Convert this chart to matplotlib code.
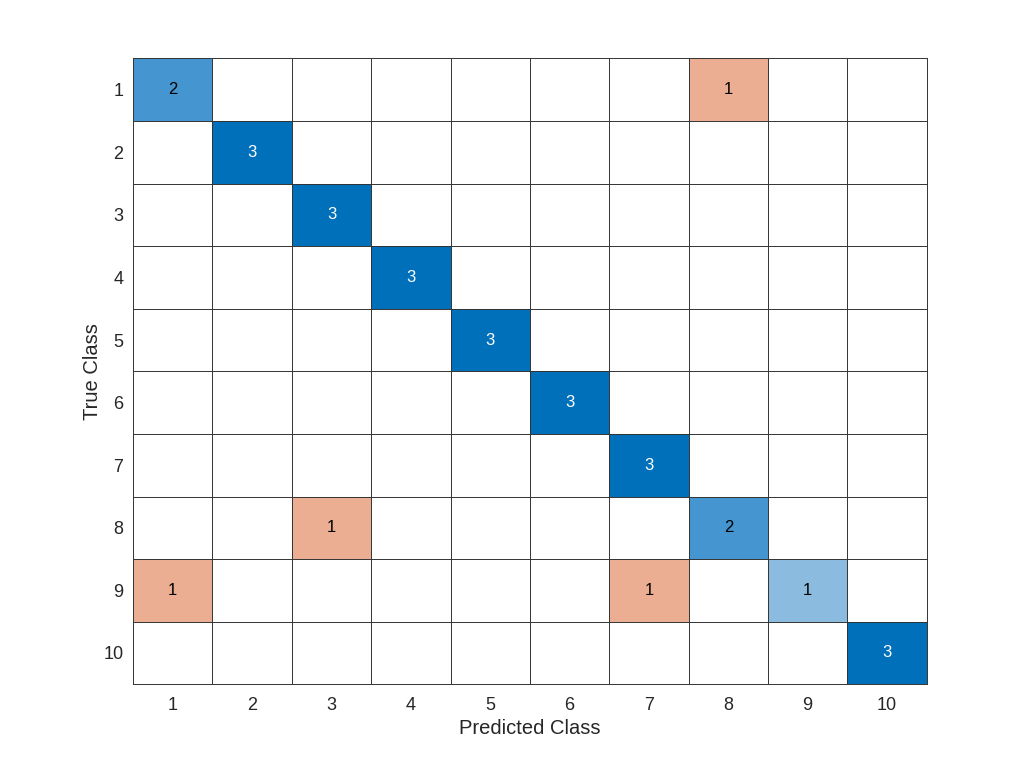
import matplotlib.pyplot as plt
import numpy as np

plt.rcParams['font.family'] = ['Liberation Sans', 'DejaVu Sans']

classes = ['1', '2', '3', '4', '5', '6', '7', '8', '9', '10']
# confusion counts, rows = true class, cols = predicted class
counts = np.array([
    [2, 0, 0, 0, 0, 0, 0, 1, 0, 0],
    [0, 3, 0, 0, 0, 0, 0, 0, 0, 0],
    [0, 0, 3, 0, 0, 0, 0, 0, 0, 0],
    [0, 0, 0, 3, 0, 0, 0, 0, 0, 0],
    [0, 0, 0, 0, 3, 0, 0, 0, 0, 0],
    [0, 0, 0, 0, 0, 3, 0, 0, 0, 0],
    [0, 0, 0, 0, 0, 0, 3, 0, 0, 0],
    [0, 0, 1, 0, 0, 0, 0, 2, 0, 0],
    [1, 0, 0, 0, 0, 0, 1, 0, 1, 0],
    [0, 0, 0, 0, 0, 0, 0, 0, 0, 3],
])

# shades
diag_colors = {1: '#8bbcdf', 2: '#4596d0', 3: '#0070bb'}
off_colors = {1: '#ebae92', 2: '#e08a63', 3: '#d95319'}

fig = plt.figure(figsize=(10.24, 7.68), dpi=100)
ax = fig.add_axes([0.130, 0.109, 0.775, 0.815])

n = len(classes)
for i in range(n):
    for j in range(n):
        v = counts[i, j]
        if v > 0:
            c = diag_colors[v] if i == j else off_colors[v]
            ax.add_patch(plt.Rectangle((j + 0.5, i + 0.5), 1, 1, facecolor=c, edgecolor='none'))
            tc = 'white' if (i == j and v == 3) else 'black'
            ax.text(j + 1, i + 1, str(v), ha='center', va='center', fontsize=12, color=tc)

for k in range(n + 1):
    ax.axhline(k + 0.5, color='#333333', lw=0.7, clip_on=False)
    ax.axvline(k + 0.5, color='#333333', lw=0.7, clip_on=False)

ax.set_xlim(0.5, n + 0.5)
ax.set_ylim(n + 0.5, 0.5)
ax.set_xticks(np.arange(1, n + 1))
ax.set_yticks(np.arange(1, n + 1))
ax.set_xticklabels(classes)
ax.set_yticklabels(classes)
ax.tick_params(axis='x', length=0, labelsize=13, colors='#262626', pad=9)
ax.tick_params(axis='y', length=0, labelsize=13, colors='#262626', pad=7)
for s in ax.spines.values():
    s.set_visible(False)
ax.set_xlabel('Predicted Class', fontsize=14.5, color='#262626', labelpad=4)
ax.set_ylabel('True Class', fontsize=14.5, color='#262626', labelpad=1)

fig.savefig('out.png', dpi=100)
